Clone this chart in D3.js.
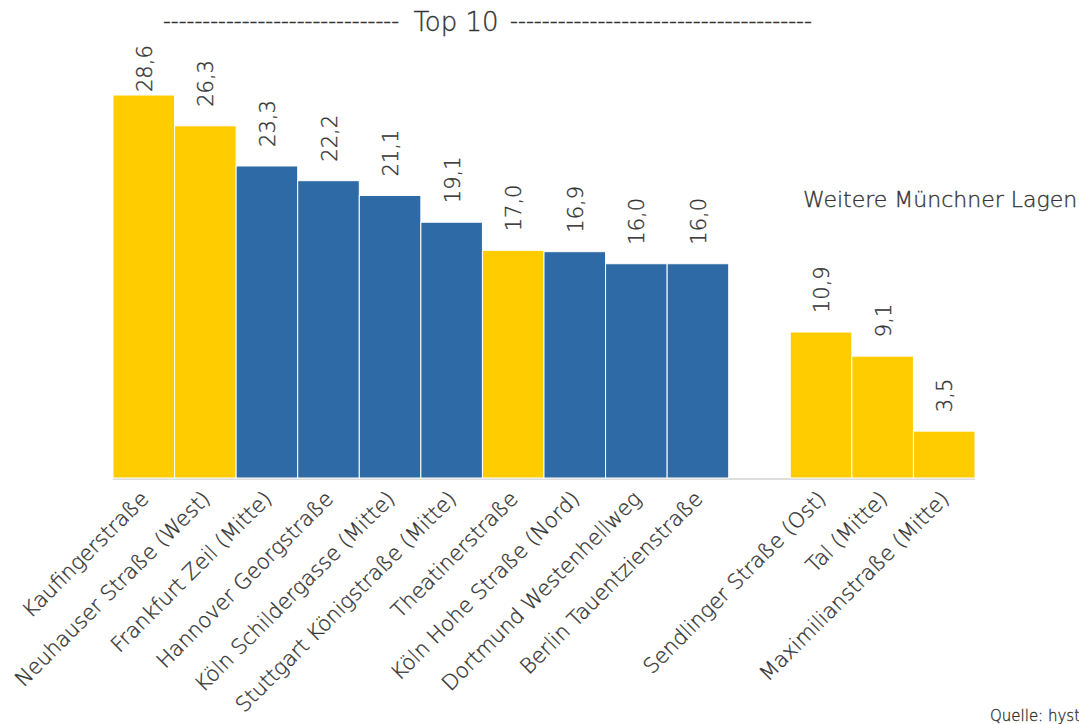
<!DOCTYPE html>
<html>
<head>
<meta charset="utf-8">
<script src="https://cdn.jsdelivr.net/npm/d3@7"></script>
<style>
  body { margin: 0; background: #fff; overflow: hidden; }
  svg text { font-family: "DejaVu Sans", sans-serif; font-weight: 200; fill: #333; stroke: #333; stroke-width: 0.35px; }
</style>
</head>
<body>
<div id="chart"></div>
<script>
// Passantenfrequenz je Lage (Tausend), Top 10 + weitere Münchner Lagen
const categories = [
    "Kaufingerstraße", "Neuhauser Straße (West)", "Frankfurt Zeil (Mitte)",
    "Hannover Georgstraße", "Köln Schildergasse (Mitte)", "Stuttgart Königstraße (Mitte)",
    "Theatinerstraße", "Köln Hohe Straße (Nord)", "Dortmund Westenhellweg",
    "Berlin Tauentzienstraße", "", "Sendlinger Straße (Ost)", "Tal (Mitte)",
    "Maximilianstraße (Mitte)"
];
const values = [28.6, 26.3, 23.3, 22.2, 21.1, 19.1, 17.0, 16.9, 16.0, 16.0, null, 10.9, 9.1, 3.5];
const munich = [true, true, false, false, false, false, true, false, false, false, null, true, true, true];

const width = 1079, height = 724;
const margin = { left: 113, right: 104, top: 95, bottom: 246 };

const svg = d3.select("#chart").append("svg")
    .attr("width", width)
    .attr("height", height);

const x = d3.scaleBand()
    .domain(d3.range(categories.length))
    .range([margin.left, width - margin.right])
    .padding(0);

const y = d3.scaleLinear()
    .domain([0, 28.6])
    .range([height - margin.bottom, margin.top]);

const rows = categories.map((c, i) => ({ i, name: c, value: values[i], munich: munich[i] }));
const bars = rows.filter(d => d.value !== null);

// baseline
svg.append("line")
    .attr("x1", x.range()[0])
    .attr("x2", x.range()[1])
    .attr("y1", y(0) + 1)
    .attr("y2", y(0) + 1)
    .attr("stroke", "#dddddd")
    .attr("stroke-width", 2);

svg.selectAll("rect.bar")
    .data(bars)
    .enter().append("rect")
    .attr("class", "bar")
    .attr("x", d => x(d.i))
    .attr("y", d => y(d.value))
    .attr("width", x.bandwidth())
    .attr("height", d => y(0) - y(d.value))
    .attr("fill", d => d.munich ? "#ffcc00" : "#2e6aa6")
    .attr("stroke", "#fff")
    .attr("stroke-width", 1);

// value labels
svg.selectAll("text.val")
    .data(bars)
    .enter().append("text")
    .attr("class", "val")
    .attr("transform", d => {
        const cx = x(d.i) + x.bandwidth() / 2 + 8;
        const cy = Math.max(y(d.value) - 19, 92);
        return `translate(${cx},${cy}) rotate(-90)`;
    })
    .style("font-size", "21px")
    .text(d => d3.format(".1f")(d.value).replace(".", ","));

// category labels
svg.selectAll("text.cat")
    .data(rows.filter(d => d.name !== ""))
    .enter().append("text")
    .attr("class", "cat")
    .attr("text-anchor", "end")
    .attr("transform", d => `translate(${x(d.i) + x.bandwidth() / 2 + 6},${y(0) + 22}) rotate(-45)`)
    .style("font-size", "21px")
    .text(d => d.name);

// title
svg.append("text")
    .attr("x", 163).attr("y", 29)
    .attr("textLength", 236)
    .attr("lengthAdjust", "spacingAndGlyphs")
    .style("font-size", "24px")
    .text("-".repeat(30));
svg.append("text")
    .attr("x", 456).attr("y", 31)
    .attr("text-anchor", "middle")
    .style("font-size", "26px")
    .text("Top 10");
svg.append("text")
    .attr("x", 510).attr("y", 29)
    .attr("textLength", 302)
    .attr("lengthAdjust", "spacingAndGlyphs")
    .style("font-size", "24px")
    .text("-".repeat(38));

svg.append("text")
    .attr("x", 803).attr("y", 207)
    .style("font-size", "22px")
    .text("Weitere Münchner Lagen");

svg.append("text")
    .attr("x", 990).attr("y", 721)
    .style("font-size", "15px")
    .text("Quelle: hystreet.com");
</script>
</body>
</html>
